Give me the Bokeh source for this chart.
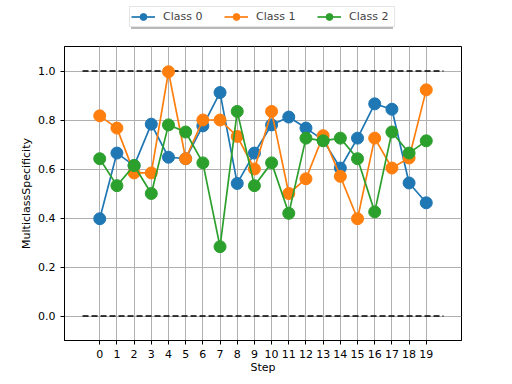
from bokeh.plotting import figure
from bokeh.layouts import column
from bokeh.models import Range1d, Legend, LegendItem, FixedTicker, CustomJSTickFormatter
from bokeh.embed import file_html
from bokeh.resources import INLINE

steps = list(range(20))
class0 = [0.397, 0.665, 0.614, 0.783, 0.648, 0.642, 0.776, 0.912, 0.541, 0.665,
          0.780, 0.812, 0.767, 0.718, 0.604, 0.726, 0.866, 0.844, 0.543, 0.462]
class1 = [0.817, 0.767, 0.584, 0.584, 0.997, 0.642, 0.800, 0.800, 0.733, 0.600,
          0.835, 0.500, 0.560, 0.736, 0.570, 0.397, 0.726, 0.604, 0.645, 0.923]
class2 = [0.642, 0.532, 0.614, 0.500, 0.780, 0.751, 0.625, 0.283, 0.835, 0.532,
          0.625, 0.419, 0.726, 0.715, 0.726, 0.642, 0.425, 0.751, 0.665, 0.715]
series = [("Class 0", class0, "#1f77b4"), ("Class 1", class1, "#ff7f0e"), ("Class 2", class2, "#2ca02c")]
hline_values = [0.0, 1.0]
hline_x = [-1, 20]
x_ticks = steps
y_ticks = [0.0, 0.2, 0.4, 0.6, 0.8, 1.0]

FONT = "DejaVu Sans"

# ---------- main plot ----------
p = figure(width=504, height=336, output_backend="svg", toolbar_location=None,
           x_range=Range1d(-2.05, 21.05), y_range=Range1d(-0.1, 1.1),
           min_border_left=64, min_border_top=6, min_border_right=43, min_border_bottom=34)
p.outline_line_color = "black"
p.outline_line_width = 1
p.outline_line_alpha = 1

for ax in (p.xaxis[0], p.yaxis[0]):
    ax.major_label_text_font = FONT
    ax.major_label_text_font_size = "11px"
    ax.major_label_text_color = "black"
    ax.axis_label_text_font = FONT
    ax.axis_label_text_font_size = "11px"
    ax.axis_label_text_font_style = "normal"
    ax.axis_label_text_color = "black"
    ax.minor_tick_line_color = None
    ax.major_tick_in = 0
    ax.major_tick_out = 4
    ax.major_tick_line_color = "black"
    ax.axis_line_color = "black"
p.xaxis[0].ticker = FixedTicker(ticks=x_ticks)
p.yaxis[0].ticker = FixedTicker(ticks=y_ticks)
p.yaxis[0].formatter = CustomJSTickFormatter(code="return tick.toFixed(1);")
p.xaxis[0].axis_label = "Step"
p.yaxis[0].axis_label = "MulticlassSpecificity"
p.xaxis[0].axis_label_standoff = 0
p.yaxis[0].axis_label_standoff = 2

p.xgrid.grid_line_color = "#b0b0b0"
p.ygrid.grid_line_color = "#b0b0b0"
p.xgrid.grid_line_width = 1
p.ygrid.grid_line_width = 1

for v in hline_values:
    p.line(hline_x, [v, v], line_color="black", line_width=1.7, line_dash="6 3")

for name, vals, color in series:
    p.line(steps, vals, line_color=color, line_width=1.7)
    p.scatter(steps, vals, size=12, fill_color=color, line_color=color, marker="circle")

# ---------- legend strip ----------
lg = figure(width=504, height=40, output_backend="svg", toolbar_location=None,
            x_axis_type=None, y_axis_type=None,
            x_range=Range1d(1000, 1001), y_range=Range1d(1000, 1001),
            min_border_left=64, min_border_top=0, min_border_right=43, min_border_bottom=0)
lg.outline_line_color = None
lg.xgrid.visible = False
lg.ygrid.visible = False

common = dict(orientation="horizontal",
              label_text_font=FONT, label_text_font_size="11px",
              glyph_width=24, glyph_height=17, label_height=17, label_width=44,
              label_standoff=8, spacing=17, padding=1, margin=0)

# shadow legend (same size, blank content, gray background)
shadow_items = []
items = []
for name, vals, color in series:
    s1 = lg.line(steps, vals, line_alpha=0)
    s2 = lg.scatter(steps, vals, fill_alpha=0, line_alpha=0, marker="circle")
    shadow_items.append(LegendItem(label=" ", renderers=[s1, s2]))
for name, vals, color in series:
    r1 = lg.line(steps, vals, line_color=color, line_width=1.7)
    r2 = lg.scatter(steps, vals, fill_color=color, line_color=color, marker="circle")
    items.append(LegendItem(label=name, renderers=[r1, r2]))

shadow = Legend(items=shadow_items, location=(67, 11), label_text_alpha=0,
                border_line_color=None, background_fill_color="#888888",
                background_fill_alpha=0.6, **common)
legend = Legend(items=items, location=(65, 13),
                border_line_color="#cccccc", border_line_width=1,
                background_fill_color="white", background_fill_alpha=1, **common)
lg.add_layout(shadow, "center")
lg.add_layout(legend, "center")

layout = column(lg, p, spacing=0)
out = file_html(layout, INLINE)
open("out.html", "w").write(out)
